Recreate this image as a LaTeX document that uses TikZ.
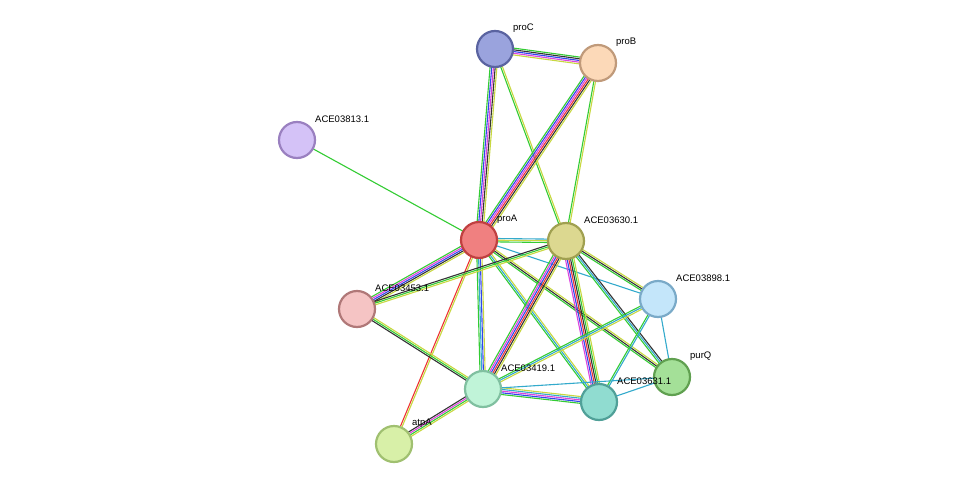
\documentclass[tikz,border=0pt]{standalone}
\usepackage{fontspec}
\setmainfont{Liberation Sans}
\usetikzlibrary{calc}
\definecolor{eg}{HTML}{33CC33}
\definecolor{er}{HTML}{EE3333}
\definecolor{eb}{HTML}{3344EE}
\definecolor{ek}{HTML}{333333}
\definecolor{em}{HTML}{DD44DD}
\definecolor{ec}{HTML}{33AACC}
\definecolor{ey}{HTML}{C8D840}
\newcommand\edgeof[4]{% a b n colors
  \foreach \cc [count=\ii] in {#4}{%
    \pgfmathsetmacro\off{(\ii-(#3+1)/2)*1.7}
    \draw[\cc,line width=1.1pt] ($(#1)!\off pt!90:(#2)$) -- ($(#2)!\off pt!-90:(#1)$);
  }}
\tikzset{prot/.style={circle,minimum size=36pt,inner sep=0pt,line width=2.2pt},
  lab/.style={anchor=west,font=\fontsize{9.5pt}{10pt}\selectfont,inner sep=0pt}}
\begin{document}
\begin{tikzpicture}[x=1pt,y=-1pt]
\useasboundingbox[fill=white] (0,0) rectangle (975,490);
\coordinate (proC) at (495,49);
\coordinate (proB) at (598,63);
\coordinate (a813) at (297,140);
\coordinate (proA) at (479,240);
\coordinate (a630) at (566,241);
\coordinate (a898) at (658,299);
\coordinate (a453) at (357,309);
\coordinate (purQ) at (672,377);
\coordinate (a419) at (483,389);
\coordinate (a631) at (599,402);
\coordinate (atpA) at (394,444);
\edgeof{proC}{proB}{5}{ey,em,eb,ek,eg}
\edgeof{proC}{proA}{5}{eg,eb,em,ek,ey}
\edgeof{proC}{a630}{2}{eg,ey}
\edgeof{proB}{proA}{6}{eg,eb,em,er,ek,ey}
\edgeof{proB}{a630}{2}{eg,ey}
\edgeof{a813}{proA}{1}{eg}
\edgeof{proA}{a630}{3}{eg,ey,ec}
\edgeof{proA}{a898}{1}{ec}
\edgeof{proA}{a453}{5}{eg,em,eb,ek,ey}
\edgeof{proA}{a419}{4}{eg,ec,eb,ey}
\edgeof{proA}{a631}{3}{eg,ec,ey}
\edgeof{proA}{purQ}{3}{eg,ek,ey}
\edgeof{proA}{atpA}{2}{er,ey}
\edgeof{a630}{a453}{3}{ek,eg,ey}
\edgeof{a630}{a419}{6}{eg,em,eb,er,ek,ey}
\edgeof{a630}{a631}{6}{em,eb,er,ek,eg,ey}
\edgeof{a630}{a898}{3}{eg,ek,ey}
\edgeof{a630}{purQ}{3}{eg,ec,ek}
\edgeof{a898}{a419}{3}{eg,ec,ey}
\edgeof{a898}{a631}{2}{eg,ec}
\edgeof{a898}{purQ}{1}{ec}
\edgeof{a453}{a419}{3}{ek,eg,ey}
\edgeof{a419}{a631}{5}{eg,eb,em,ec,ey}
\edgeof{a419}{atpA}{4}{ek,em,eg,ey}
\edgeof{a419}{purQ}{1}{ec}
\edgeof{a631}{purQ}{1}{ec}
\node[prot,fill={rgb,255:red,154;green,163;blue,221},draw={rgb,255:red,90;green,99;blue,160}] (nproC) at (proC) {};
\node[prot,fill={rgb,255:red,252;green,217;blue,184},draw={rgb,255:red,192;green,154;blue,122}] (nproB) at (proB) {};
\node[prot,fill={rgb,255:red,212;green,194;blue,247},draw={rgb,255:red,154;green,128;blue,192}] (n813) at (a813) {};
\node[prot,fill={rgb,255:red,240;green,128;blue,128},draw={rgb,255:red,192;green,64;blue,64}] (nproA) at (proA) {};
\node[prot,fill={rgb,255:red,220;green,216;blue,144},draw={rgb,255:red,160;green,160;blue,80}] (n630) at (a630) {};
\node[prot,fill={rgb,255:red,196;green,230;blue,250},draw={rgb,255:red,122;green,170;blue,200}] (n898) at (a898) {};
\node[prot,fill={rgb,255:red,245;green,196;blue,196},draw={rgb,255:red,176;green,120;blue,120}] (n453) at (a453) {};
\node[prot,fill={rgb,255:red,164;green,224;blue,152},draw={rgb,255:red,96;green,160;blue,80}] (npurQ) at (purQ) {};
\node[prot,fill={rgb,255:red,192;green,244;blue,216},draw={rgb,255:red,128;green,192;blue,160}] (n419) at (a419) {};
\node[prot,fill={rgb,255:red,144;green,220;blue,208},draw={rgb,255:red,80;green,160;blue,152}] (n631) at (a631) {};
\node[prot,fill={rgb,255:red,216;green,240;blue,168},draw={rgb,255:red,160;green,192;blue,112}] (natpA) at (atpA) {};
\foreach \n/\t in {proC/proC,proB/proB,a813/ACE03813.1,proA/proA,a630/ACE03630.1,a898/ACE03898.1,a453/ACE03453.1,purQ/purQ,a419/ACE03419.1,a631/ACE03631.1,atpA/atpA}
  \node[lab] (l\n) at ($(\n)+(18,-21)$) {\t};
\end{tikzpicture}
\end{document}
